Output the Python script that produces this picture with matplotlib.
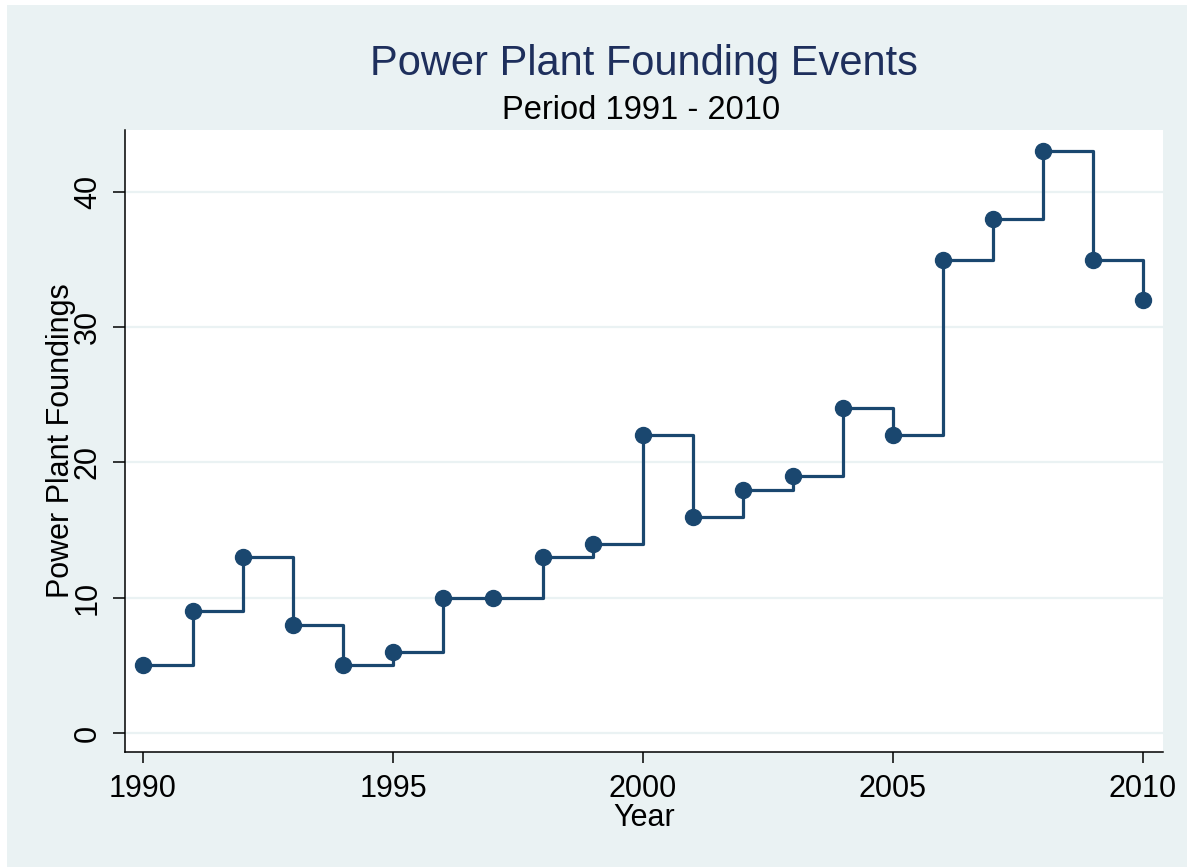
import numpy as np
import matplotlib
matplotlib.use("Agg")
import matplotlib.pyplot as plt
from matplotlib.patches import Rectangle

years = [1990, 1991, 1992, 1993, 1994, 1995, 1996, 1997, 1998, 1999, 2000,
         2001, 2002, 2003, 2004, 2005, 2006, 2007, 2008, 2009, 2010]
foundings = [5, 9, 13, 8, 5, 6, 10, 10, 13, 14, 22,
             16, 18, 19, 24, 22, 35, 38, 43, 35, 32]
x_ticks = [1990, 1995, 2000, 2005, 2010]
y_ticks = [0, 10, 20, 30, 40]

title = "Power Plant Founding Events"
subtitle = "Period 1991 - 2010"

plt.rcParams['font.family'] = ['Liberation Sans', 'DejaVu Sans']

navy = "#1a476f"
bg = "#eaf2f3"

W, H = 1187, 867
fig = plt.figure(figsize=(W / 100, H / 100), dpi=100)
fig.patch.set_facecolor("white")
# stata outer region (small white margin at top and left)
fig.patches.append(Rectangle((7 / W, 0), 1, 1 - 5 / H, transform=fig.transFigure,
                             facecolor=bg, edgecolor="none", zorder=-10))

ax = fig.add_axes([125 / W, 1 - 752 / H, (1163 - 125) / W, (752 - 130) / H])
ax.set_facecolor("white")

ax.step(years, foundings, where="post", color=navy, lw=2.3, zorder=3)
ax.plot(years, foundings, "o", color=navy, ms=11.5, zorder=4)

ax.set_xlim(1989.64, 2010.4)
ax.set_ylim(-1.405, 44.58)
ax.set_xticks(x_ticks)
ax.set_yticks(y_ticks)
ax.set_yticklabels([str(v) for v in y_ticks], rotation=90, va="center")

for v in y_ticks:
    ax.axhline(v, color=bg, lw=1.6, zorder=1)

for s in ["top", "right"]:
    ax.spines[s].set_visible(False)
for s in ["left", "bottom"]:
    ax.spines[s].set_linewidth(1.1)
    ax.spines[s].set_color("black")

ax.tick_params(axis="x", length=8, width=1.1, pad=8, labelsize=22)
ax.tick_params(axis="y", length=9, width=1.1, pad=7, labelsize=22)

ax.set_xlabel("Year", fontsize=22, labelpad=-1)
ax.set_ylabel("Power Plant Foundings", fontsize=22, labelpad=-2)

fig.text(644 / W, 1 - 75 / H, title, ha="center", va="baseline",
         fontsize=30, color="#1e2f5c")
fig.text(641 / W, 1 - 119 / H, subtitle, ha="center", va="baseline",
         fontsize=23.5, color="black")

fig.savefig("out.png", dpi=100)
